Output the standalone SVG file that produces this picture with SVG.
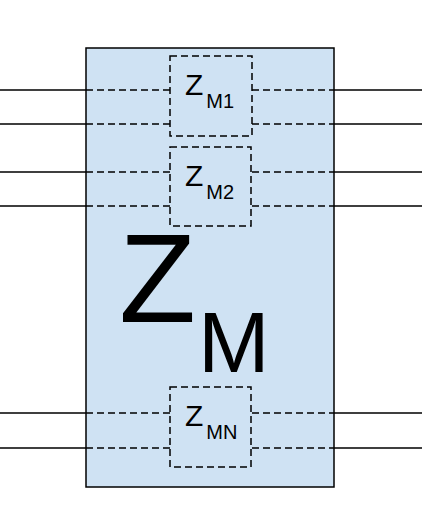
<svg xmlns="http://www.w3.org/2000/svg" width="422" height="506" viewBox="0 0 422 506">
<style>
.solid{stroke:#000;stroke-width:1.5;fill:none}
.dash{stroke:#000;stroke-width:1.5;fill:none;stroke-dasharray:7,4}
.t{font-family:"Liberation Sans",Arial,sans-serif;fill:#000}
</style>
<rect width="422" height="506" fill="#fff"/>
<g id="ZM">
<rect x="86" y="48" width="248" height="439" fill="#cfe2f3" stroke="#000" stroke-width="1.5"/>
<text class="t" x="119" y="322" font-size="126">Z</text>
<text class="t" x="198" y="372" font-size="86">M</text>
</g>
<g id="connectors">
<path class="solid" d="M0 90H86M0 124H86M0 172H86M0 206H86M0 413H86M0 448H86"/>
<path class="solid" d="M334 90H422M334 124H422M334 172H422M334 206H422M334 413H422M334 448H422"/>
<path class="dash" d="M86 90H170M86 124H170M86 172H170M86 206H170M86 413H170M86 448H170"/>
<path class="dash" d="M252 90H334M252 124H334M252 172H334M252 206H334M252 413H334M252 448H334"/>
</g>
<g id="ZM1">
<rect class="dash" x="170" y="56" width="82" height="80"/>
<text class="t" x="185" y="95" font-size="30">Z<tspan font-size="20" dx="3" dy="13">M1</tspan></text>
</g>
<g id="ZM2">
<rect class="dash" x="170" y="147" width="81" height="79"/>
<text class="t" x="185" y="186" font-size="30">Z<tspan font-size="20" dx="3" dy="13">M2</tspan></text>
</g>
<g id="ZMN">
<rect class="dash" x="170" y="387" width="81" height="80"/>
<text class="t" x="185" y="426" font-size="30">Z<tspan font-size="20" dx="3" dy="13">MN</tspan></text>
</g>
</svg>
